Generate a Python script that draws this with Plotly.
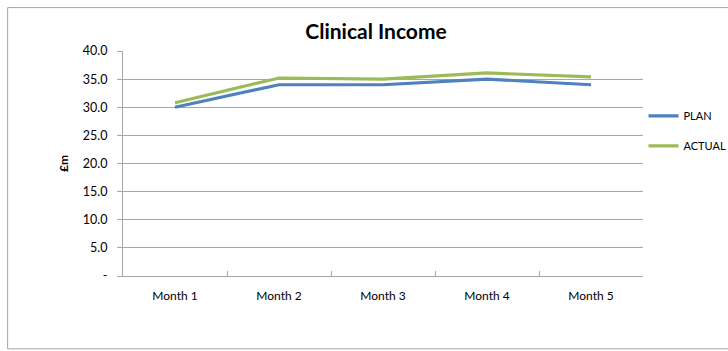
import plotly.graph_objects as go

months = ["Month 1", "Month 2", "Month 3", "Month 4", "Month 5"]
plan = [30.0, 34.0, 34.0, 35.0, 34.0]
actual = [30.8, 35.2, 35.0, 36.1, 35.4]
y_ticks = [0, 5, 10, 15, 20, 25, 30, 35, 40]
y_tick_text = ["-", "5.0", "10.0", "15.0", "20.0", "25.0", "30.0", "35.0", "40.0"]

FONT = "Lato, 'Open Sans', sans-serif"
W, H = 728, 351
ML, MR, MT, MB = 123, 84.5, 51, 74.5
pw = W - ML - MR
ph = H - MT - MB

fig = go.Figure()
fig.add_trace(go.Scatter(x=months, y=plan, mode="lines", name="PLAN",
                         line=dict(color="#4F81BD", width=3.2), legendgroup="a"))
fig.add_trace(go.Scatter(x=months, y=actual, mode="lines", name="ACTUAL",
                         line=dict(color="#9BBB59", width=3.2), legendgroup="b"))

# outer chart frame
def px_x(v):
    return (v - ML) / pw

def px_y(v):
    return (H - MB - v) / ph

fig.add_shape(type="rect", xref="paper", yref="paper",
              x0=px_x(7.5), x1=px_x(735), y0=px_y(7.5), y1=px_y(349.5),
              line=dict(color="#A6A6A6", width=1), layer="below")

fig.update_layout(
    width=W, height=H,
    margin=dict(l=ML, r=MR, t=MT, b=MB, autoexpand=False),
    paper_bgcolor="white", plot_bgcolor="white",
    font=dict(family=FONT, size=12, color="black"),
    title=dict(text="<b>Clinical Income</b>", x=376 / W, xanchor="center",
               y=1 - 32 / H, yanchor="middle",
               font=dict(family=FONT, size=21, color="black")),
    showlegend=True,
    legend=dict(x=px_x(644), y=px_y(101.5), xanchor="left", yanchor="top",
                font=dict(size=11), tracegroupgap=11, bgcolor="rgba(0,0,0,0)",
                itemwidth=30),
    xaxis=dict(type="category", range=[-0.5, 4.5], showgrid=False, showline=True,
               linecolor="#A6A6A6", linewidth=1, ticks="inside",
               tickson="boundaries", ticklen=5, tickcolor="#A6A6A6",
               tickfont=dict(size=12), ticklabelstandoff=9, zeroline=False),
    yaxis=dict(range=[0, 40], tickvals=y_ticks, ticktext=y_tick_text,
               showgrid=True, gridcolor="#A6A6A6", gridwidth=1,
               showline=True, linecolor="#A6A6A6", linewidth=1,
               ticks="outside", ticklen=5, tickcolor="#A6A6A6",
               tickfont=dict(size=12.5), ticklabelstandoff=7, zeroline=False,
               title=dict(text="<b>£m</b>", font=dict(size=12), standoff=11)),
)

fig.write_html("out.html")
